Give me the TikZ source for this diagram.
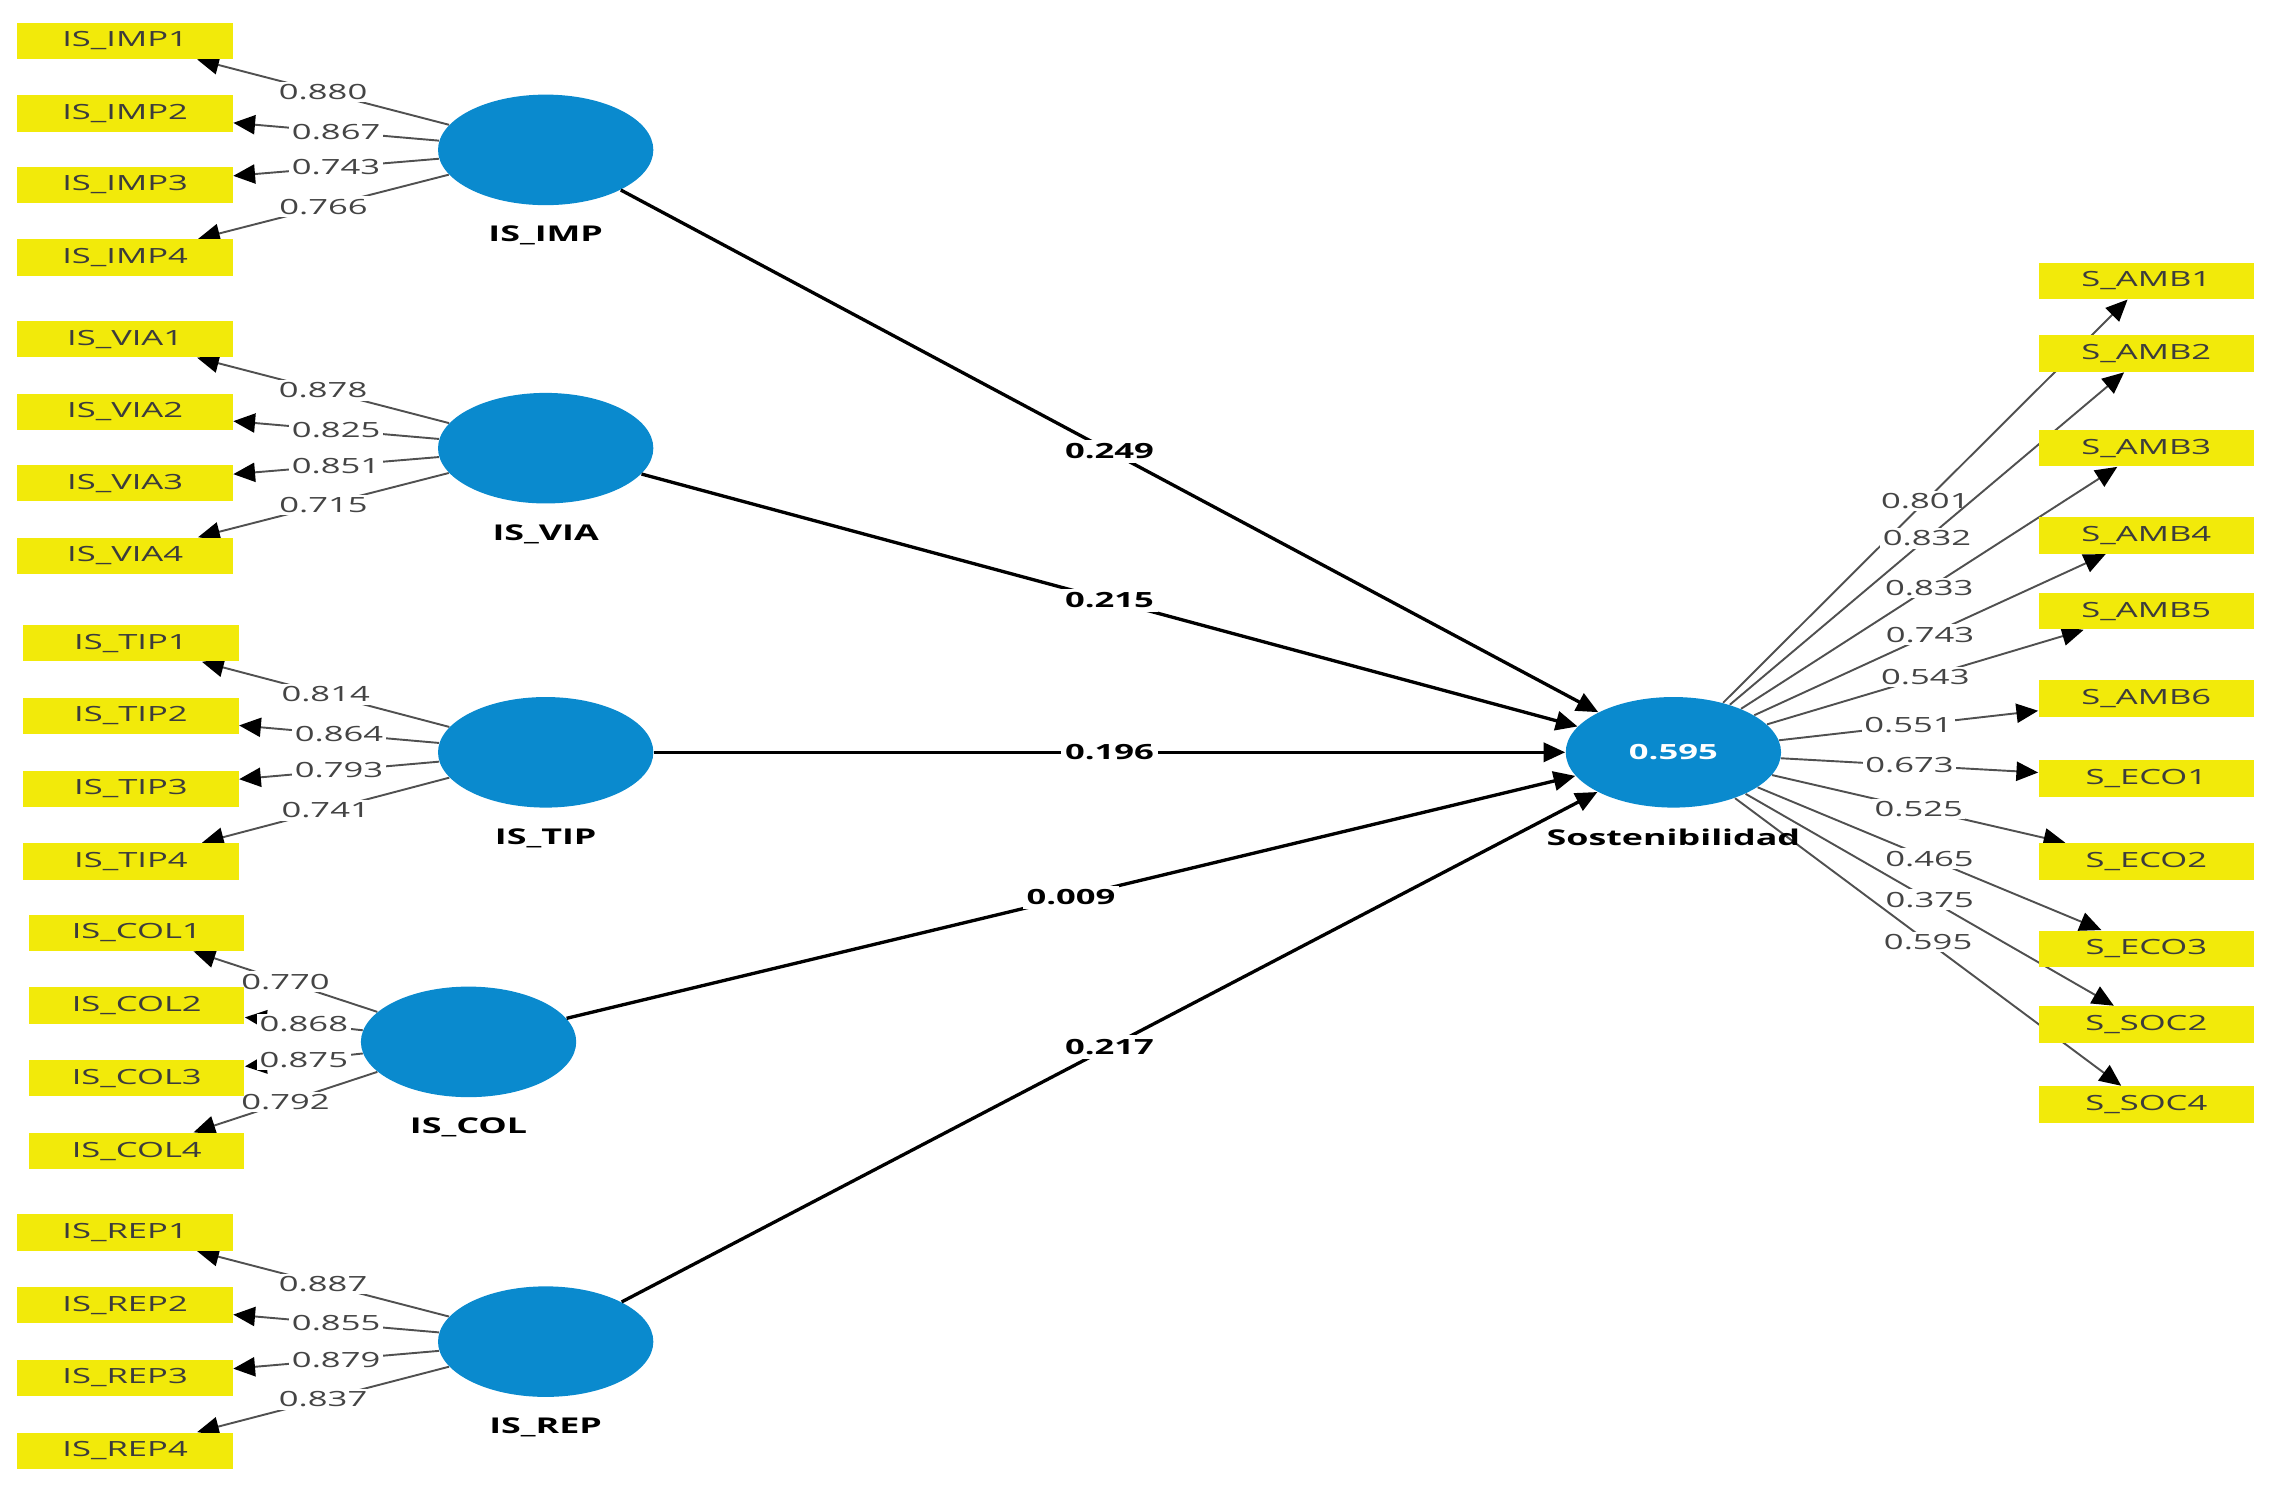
\documentclass[tikz,border=0pt]{standalone}
\usepackage{fontspec}
\setmainfont{Open Sans}[FakeStretch=1.65]
\usepackage{tikz}
\usetikzlibrary{arrows.meta}
\usetikzlibrary{shapes.geometric}
\usetikzlibrary{backgrounds, positioning}

\definecolor{plsblue}{HTML}{0A8ACE}
\definecolor{plsyellow}{HTML}{F2EA0A}
\definecolor{boxtext}{HTML}{3C3C3C}
\definecolor{valgrey}{HTML}{444444}
\definecolor{loadgrey}{HTML}{505050}

\begin{document}
\begin{tikzpicture}[x=0.02cm, y=-0.02cm,
    >={Triangle[length=8.5pt, width=7.5pt, color=black]},
    latent/.style={ellipse, fill=plsblue, minimum width=2.96cm, minimum height=1.52cm, inner sep=0pt},
    item/.style={rectangle, fill=plsyellow, minimum width=2.96cm, minimum height=0.5cm, inner sep=0pt,
      text=boxtext, font=\fontsize{8.2}{10}\selectfont},
    lvname/.style={font=\bfseries\fontsize{8.5}{10}\selectfont, inner sep=1pt},
    load/.style={->, draw=loadgrey, line width=0.75pt},
    loadval/.style={fill=white, inner sep=1pt, text=valgrey, font=\fontsize{8.2}{10}\selectfont},
    structural/.style={->, line width=1.3pt},
    coef/.style={fill=white, inner sep=1.5pt, font=\bfseries\fontsize{8.2}{10}\selectfont}]
  \useasboundingbox (0,0) rectangle (1560,1028);

  % latent variables
  \node[latent] (imp) at (375,103) {};
  \node[latent] (via) at (375,308) {};
  \node[latent] (tip) at (375,517) {};
  \node[latent] (col) at (322,716) {};
  \node[latent] (rep) at (375,922) {};
  \node[latent, text=white, font=\bfseries\fontsize{8.2}{10}\selectfont] (sost) at (1150,517) {0.595};
  \node[lvname, below=0.24cm of imp] (impname) {IS\_IMP};
  \node[lvname, below=0.24cm of via] (vianame) {IS\_VIA};
  \node[lvname, below=0.24cm of tip] (tipname) {IS\_TIP};
  \node[lvname, below=0.24cm of col] (colname) {IS\_COL};
  \node[lvname, below=0.24cm of rep] (repname) {IS\_REP};
  \node[lvname, below=0.24cm of sost] (sostname) {Sostenibilidad};

  % indicators, left
  \node[item] (imp1) at (86,28) {IS\_IMP1};
  \node[item] (imp2) at (86,78) {IS\_IMP2};
  \node[item] (imp3) at (86,127) {IS\_IMP3};
  \node[item] (imp4) at (86,177) {IS\_IMP4};
  \node[item] (via1) at (86,233) {IS\_VIA1};
  \node[item] (via2) at (86,283) {IS\_VIA2};
  \node[item] (via3) at (86,332) {IS\_VIA3};
  \node[item] (via4) at (86,382) {IS\_VIA4};
  \node[item] (tip1) at (90,442) {IS\_TIP1};
  \node[item] (tip2) at (90,492) {IS\_TIP2};
  \node[item] (tip3) at (90,542) {IS\_TIP3};
  \node[item] (tip4) at (90,592) {IS\_TIP4};
  \node[item] (col1) at (94,641) {IS\_COL1};
  \node[item] (col2) at (94,691) {IS\_COL2};
  \node[item] (col3) at (94,741) {IS\_COL3};
  \node[item] (col4) at (94,791) {IS\_COL4};
  \node[item] (rep1) at (86,847) {IS\_REP1};
  \node[item] (rep2) at (86,897) {IS\_REP2};
  \node[item] (rep3) at (86,947) {IS\_REP3};
  \node[item] (rep4) at (86,997) {IS\_REP4};

  % indicators, right
  \node[item] (amb1) at (1475,193) {S\_AMB1};
  \node[item] (amb2) at (1475,243) {S\_AMB2};
  \node[item] (amb3) at (1475,308) {S\_AMB3};
  \node[item] (amb4) at (1475,368) {S\_AMB4};
  \node[item] (amb5) at (1475,420) {S\_AMB5};
  \node[item] (amb6) at (1475,480) {S\_AMB6};
  \node[item] (eco1) at (1475,535) {S\_ECO1};
  \node[item] (eco2) at (1475,592) {S\_ECO2};
  \node[item] (eco3) at (1475,652) {S\_ECO3};
  \node[item] (soc2) at (1475,704) {S\_SOC2};
  \node[item] (soc4) at (1475,759) {S\_SOC4};

  \begin{scope}[on background layer]
    % outer loadings
    \draw (imp) edge[load] node[loadval]{0.880} (imp1)
      (imp) edge[load] node[loadval]{0.867} (imp2)
      (imp) edge[load] node[loadval]{0.743} (imp3)
      (imp) edge[load] node[loadval]{0.766} (imp4);
    \draw (via) edge[load] node[loadval]{0.878} (via1)
      (via) edge[load] node[loadval]{0.825} (via2)
      (via) edge[load] node[loadval]{0.851} (via3)
      (via) edge[load] node[loadval]{0.715} (via4);
    \draw (tip) edge[load] node[loadval]{0.814} (tip1)
      (tip) edge[load] node[loadval]{0.864} (tip2)
      (tip) edge[load] node[loadval]{0.793} (tip3)
      (tip) edge[load] node[loadval]{0.741} (tip4);
    \draw (col) edge[load] node[loadval]{0.770} (col1)
      (col) edge[load] node[loadval]{0.868} (col2)
      (col) edge[load] node[loadval]{0.875} (col3)
      (col) edge[load] node[loadval]{0.792} (col4);
    \draw (rep) edge[load] node[loadval]{0.887} (rep1)
      (rep) edge[load] node[loadval]{0.855} (rep2)
      (rep) edge[load] node[loadval]{0.879} (rep3)
      (rep) edge[load] node[loadval]{0.837} (rep4);
    \draw (sost) edge[load] node[loadval]{0.801} (amb1)
      (sost) edge[load] node[loadval]{0.832} (amb2)
      (sost) edge[load] node[loadval]{0.833} (amb3)
      (sost) edge[load] node[loadval]{0.743} (amb4)
      (sost) edge[load] node[loadval]{0.543} (amb5)
      (sost) edge[load] node[loadval]{0.551} (amb6)
      (sost) edge[load] node[loadval]{0.673} (eco1)
      (sost) edge[load] node[loadval]{0.525} (eco2)
      (sost) edge[load] node[loadval]{0.465} (eco3)
      (sost) edge[load] node[loadval]{0.375} (soc2)
      (sost) edge[load] node[loadval]{0.595} (soc4);
  \end{scope}

  % path coefficients
  \draw (imp) edge[structural] node[coef]{0.249} (sost)
    (via) edge[structural] node[coef]{0.215} (sost)
    (tip) edge[structural] node[coef]{0.196} (sost)
    (col) edge[structural] node[coef]{0.009} (sost)
    (rep) edge[structural] node[coef]{0.217} (sost);
\end{tikzpicture}
\end{document}
